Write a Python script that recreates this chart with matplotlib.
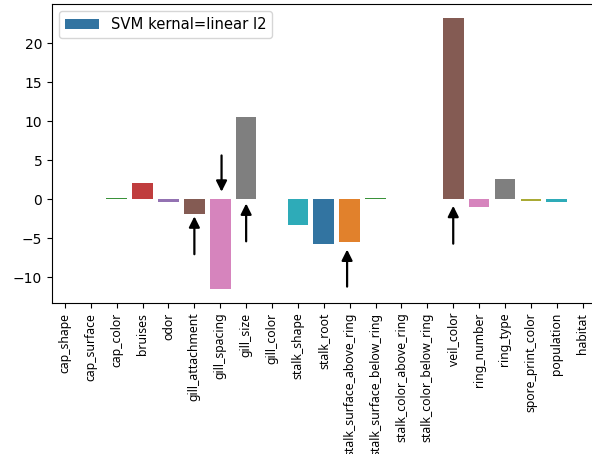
import matplotlib
matplotlib.use("Agg")
import matplotlib.pyplot as plt
import seaborn as sns

features = ["cap_shape", "cap_surface", "cap_color", "bruises", "odor",
            "gill_attachment", "gill_spacing", "gill_size", "gill_color",
            "stalk_shape", "stalk_root", "stalk_surface_above_ring",
            "stalk_surface_below_ring", "stalk_color_above_ring",
            "stalk_color_below_ring", "veil_color", "ring_number",
            "ring_type", "spore_print_color", "population", "habitat"]
coefficients = [0.0, 0.0, 0.15, 2.05, -0.3, -1.9, -11.45, 10.55, 0.0,
                -3.35, -5.75, -5.5, 0.15, 0.0, 0.0, 23.2, -1.05, 2.6,
                -0.18, -0.35, 0.0]
legend_label = "SVM kernal=linear l2"

# arrows: (x index, tail y, head y)
arrows = [(5, -7.05, -2.2), (6.05, 5.6, 0.95), (7, -5.4, -0.55),
          (10.9, -11.2, -6.45), (15, -5.7, -0.85)]

palette = [sns.desaturate(c, 0.75) for c in sns.color_palette("tab10")]
colors = [palette[i % 10] for i in range(len(features))]

fig = plt.figure(figsize=(5.92, 4.54), dpi=100)
ax = fig.add_axes([52 / 592, 1 - 303 / 454, 543.6 / 592, 299 / 454])

x = list(range(len(features)))
bars = ax.bar(x, coefficients, width=0.8, color=colors, label=legend_label)
ax.set_xlim(-0.5, len(features) - 0.5)
ax.set_ylim(-13.3, 25.0)
ax.set_yticks([-10, -5, 0, 5, 10, 15, 20])
ax.set_xticks(x)
ax.set_xticklabels(features, rotation=90, family=["Noto Sans", "DejaVu Sans"],
                   fontsize=8.8)
ax.tick_params(axis="y", labelsize=10)

for xi, y0, y1 in arrows:
    ax.annotate("", xy=(xi, y1), xytext=(xi, y0),
                arrowprops=dict(arrowstyle="-|>", color="black", lw=1.6,
                                mutation_scale=16, shrinkA=0, shrinkB=0))

leg = ax.legend(loc="upper left", fontsize=10.6, handlelength=2.3,
                handles=[bars.patches[0]], labels=[legend_label])

fig.savefig("out.png", dpi=100)
